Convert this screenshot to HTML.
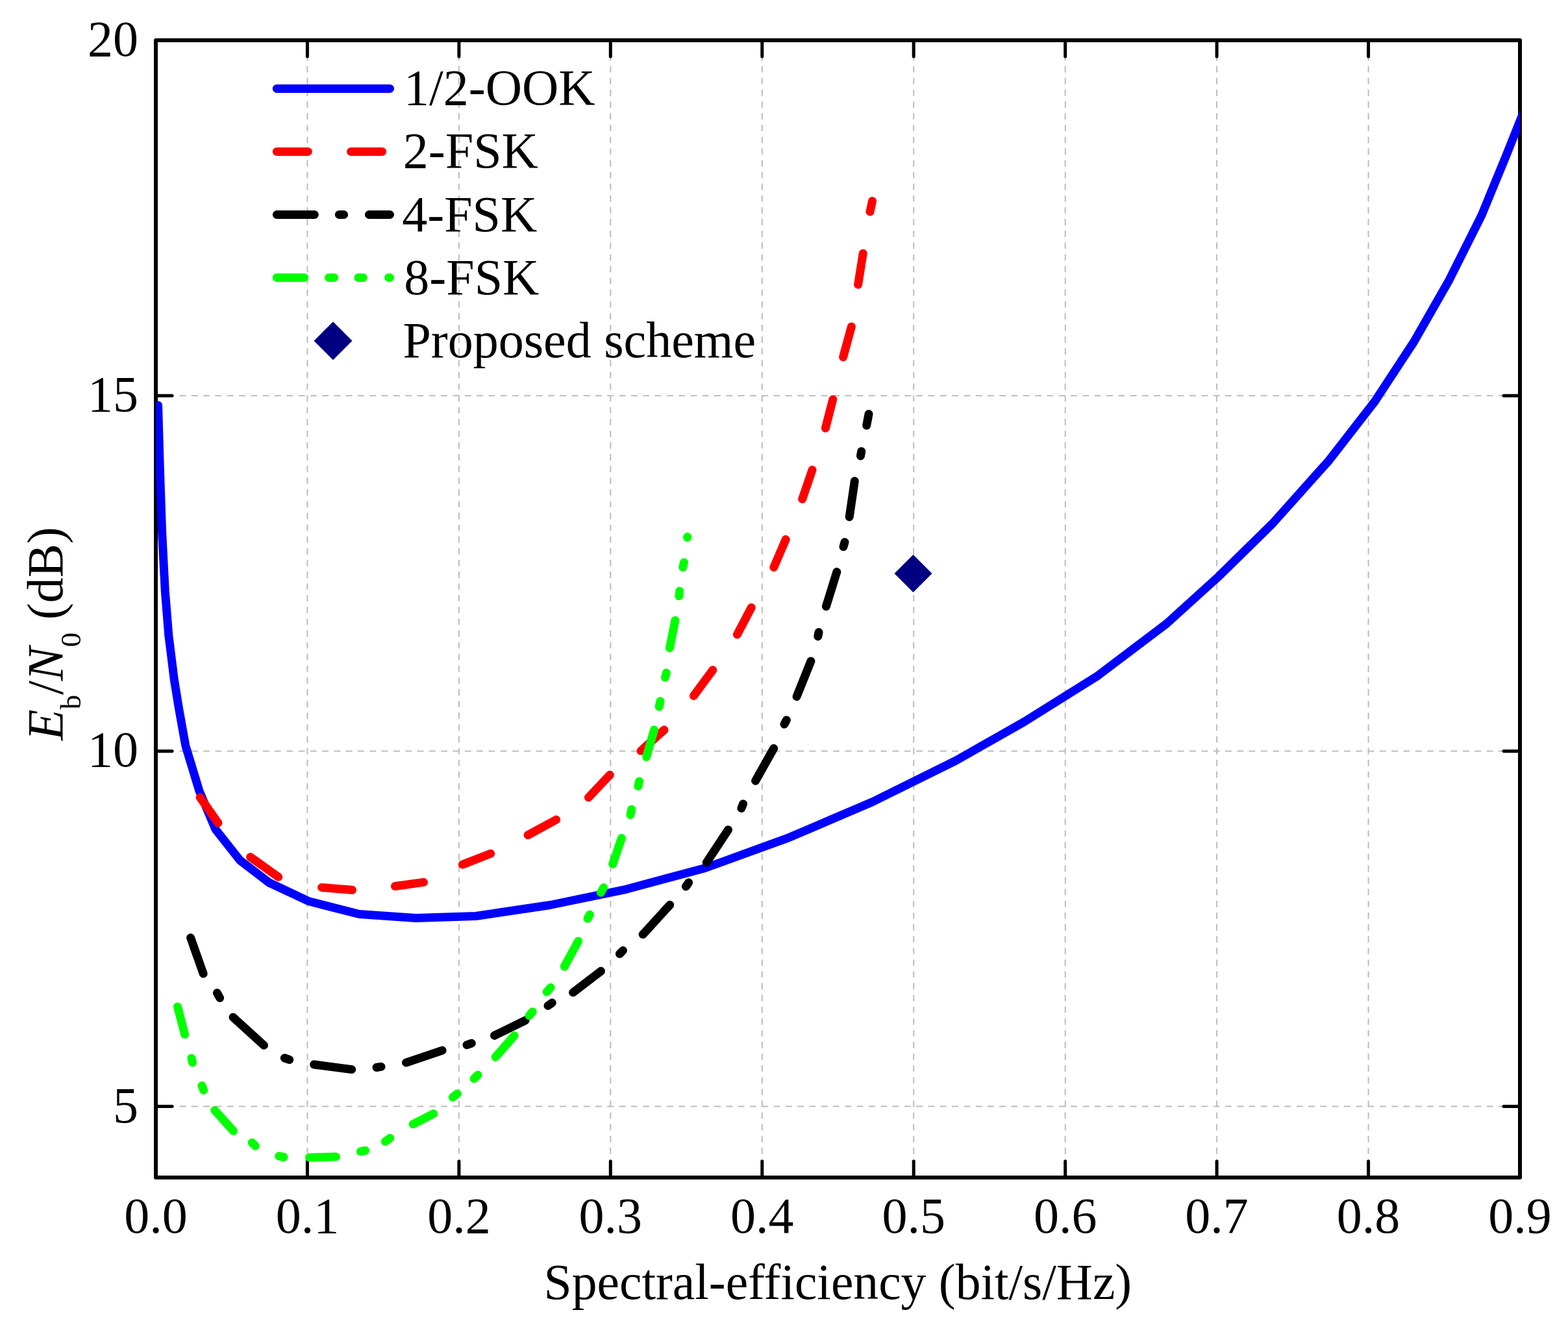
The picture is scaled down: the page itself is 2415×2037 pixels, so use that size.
<!DOCTYPE html><html><head><meta charset="utf-8"><title>Eb/N0 vs spectral efficiency</title><style>
html,body{margin:0;padding:0;background:#fff;}body{width:2415px;height:2037px;overflow:hidden;}svg{display:block;}
text{font-family:"Liberation Serif","Times New Roman",serif;fill:#000;}
</style></head><body>
<svg width="2415" height="2037" viewBox="0 0 2415 2037">
<rect width="2415" height="2037" fill="#fff"/>
<defs><clipPath id="pc"><rect x="240" y="62" width="2101" height="1751"/></clipPath></defs>
<path d="M473.4 1813V62 M706.9 1813V62 M940.3 1813V62 M1173.8 1813V62 M1407.2 1813V62 M1640.7 1813V62 M1874.1 1813V62 M2107.6 1813V62" stroke="#bcbcbc" stroke-width="2" stroke-dasharray="9.8 8.3" fill="none"/>
<path d="M240 1703.6H2341 M240 1156.4H2341 M240 609.2H2341" stroke="#bcbcbc" stroke-width="2" stroke-dasharray="9.8 8.5" fill="none"/>
<rect x="240" y="62" width="2101" height="1751" fill="none" stroke="#000" stroke-width="6" stroke-linejoin="round"/>
<path d="M473.4 1813v-25M473.4 62v25 M706.9 1813v-25M706.9 62v25 M940.3 1813v-25M940.3 62v25 M1173.8 1813v-25M1173.8 62v25 M1407.2 1813v-25M1407.2 62v25 M1640.7 1813v-25M1640.7 62v25 M1874.1 1813v-25M1874.1 62v25 M2107.6 1813v-25M2107.6 62v25 M240 1703.6h25M2341 1703.6h-25 M240 1156.4h25M2341 1156.4h-25 M240 609.2h25M2341 609.2h-25" stroke="#000" stroke-width="5" stroke-linecap="round" fill="none"/>
<g clip-path="url(#pc)" fill="none" stroke-width="13" stroke-linecap="round" stroke-linejoin="round">
<path d="M243.5 624 L246.3 722 L249.6 820 L254.3 910.7 L259.8 978.6 L268.3 1046.6 L275.7 1092 L285.9 1148.6 L307 1218 L332 1277 L369.5 1324.5 L414.5 1359 L476 1387.8 L553.5 1407.5 L640.5 1413.5 L733 1410.5 L847 1393.5 L964 1369.3 L1086.1 1336.5 L1215.2 1289.6 L1343 1235 L1472.2 1171.1 L1578 1111 L1689.1 1041.6 L1796.7 960.3 L1877 887.5 L1960 806 L2047 708.8 L2117.5 618 L2177.6 526.4 L2232 431.2 L2282 331.4 L2320 239 L2341.8 184.3 L2352 158" stroke="#0000ff"/>
<path d="M308.2 1227.7L335.9 1267 M385.6 1319.6L428.7 1350.2 M495.6 1366.4L542.5 1370.3 M608.5 1364.5L652.5 1358.4 M712.4 1331.1L755.7 1314.3 M813.1 1285.7L856.6 1262.1 M906.4 1227.9L939.3 1193.1 M987.1 1156.1L1022.9 1123.8 M1068.4 1071.4L1097.8 1031.7 M1135.4 977.1L1157.2 935.4 M1191.8 873.5L1210.2 830.6 M1235.7 768.4L1251 723.5 M1271.4 659.2L1282.8 615 M1298.6 549.8L1311.4 502.9 M1321.6 438.2L1329.2 390.2 M1340 326L1343.5 309.5" stroke="#ff0000"/>
<path d="M293.6 1443.8L313.1 1499.1 M334.4 1528.8L338.6 1536.5 M359 1566.3L406.5 1609.5 M438.3 1629L445.7 1631.6 M483.6 1639L541.7 1646.6 M580 1643.5L587 1642.4 M625.5 1636.1L681.1 1617.3 M719 1608.8L726.3 1606.3 M761.5 1594.4L809.1 1571.1 M844 1548.5L850.3 1544 M882.6 1528.1L925.4 1495.3 M954.4 1468.6L959.5 1463.5 M990.1 1438.8L1031.7 1393.3 M1056.4 1364.9L1060.6 1358.9 M1088.3 1327.9L1121.5 1277.7 M1141.9 1244.5L1144.5 1237.7 M1163.6 1202.2L1191.7 1152.3 M1208 1115.1L1211.3 1108.7 M1227.1 1072.4L1248.9 1018 M1259.8 979.9L1261 973.5 M1272.4 933.7L1288.8 880.6 M1299 841.8L1301 834.7 M1308.2 795.9L1316.3 740.8 M1325.5 702L1326.7 694.9 M1334.7 655.1L1338 637.5" stroke="#000"/>
<path d="M273.5 1550.1L284.6 1592.6 M294.9 1629.2L296.6 1636 M311 1671.5L313.6 1678.5 M330.8 1709.5L359.5 1741.3 M388.2 1759.3L393.3 1764.3 M429.8 1780.1L437 1781.5 M476.5 1782.2L517.4 1781.1 M555.4 1772.9L562.6 1771.5 M593.4 1757.6L600.7 1752.3 M636.2 1730.9L667.7 1714.8 M697.4 1689.6L704.2 1684 M730.1 1660.7L736 1655.1 M763.2 1627.6L792.1 1594.4 M815.1 1563.8L820.2 1557.8 M842.1 1527.3L848.1 1520.5 M869.3 1488.2L890.6 1449 M905 1414.2L908.4 1408.2 M925.4 1374.2L929.7 1366.6 M943.8 1330.4L957.4 1290.4 M971 1254.7L972.7 1246.2 M982.9 1210.5L984.6 1202.9 M995.6 1165.4L1007.6 1123.8 M1015.2 1088.1L1016.9 1079.6 M1024.5 1043L1026.3 1036 M1031.4 997.7L1039.9 955.2 M1045.9 917.8L1046.7 910.1 M1051.8 873.5L1053.5 865.9 M1058.6 827.6L1058.8 826.6" stroke="#00ff00"/>
</g>
<path d="M1406.5 853.9L1435.5 882.9L1406.5 911.9L1377.5 882.9Z" fill="#000080"/>
<g font-size="78"><text x="240" y="1898" text-anchor="middle">0.0</text><text x="473.4" y="1898" text-anchor="middle">0.1</text><text x="706.9" y="1898" text-anchor="middle">0.2</text><text x="940.3" y="1898" text-anchor="middle">0.3</text><text x="1173.8" y="1898" text-anchor="middle">0.4</text><text x="1407.2" y="1898" text-anchor="middle">0.5</text><text x="1640.7" y="1898" text-anchor="middle">0.6</text><text x="1874.1" y="1898" text-anchor="middle">0.7</text><text x="2107.6" y="1898" text-anchor="middle">0.8</text><text x="2341" y="1898" text-anchor="middle">0.9</text><text x="213" y="1727.6" text-anchor="end">5</text><text x="213" y="1180.4" text-anchor="end">10</text><text x="213" y="633.2" text-anchor="end">15</text><text x="213" y="86" text-anchor="end">20</text></g>
<text x="1290.4" y="1999.5" font-size="77.6" text-anchor="middle">Spectral-efficiency (bit/s/Hz)</text>
<text transform="translate(95.6 1140) rotate(-90)" font-size="78"><tspan font-style="italic">E</tspan><tspan font-size="45" dy="28">b</tspan><tspan dy="-28">/</tspan><tspan font-style="italic">N</tspan><tspan font-size="45" dy="28">0</tspan><tspan dy="-28"> (dB)</tspan></text>
<g fill="none" stroke-width="13" stroke-linecap="round">
<path d="M426.3 136.4H600.5" stroke="#0000ff"/>
<path d="M426.3 233.4H600.5" stroke="#ff0000" stroke-dasharray="48 66.3"/>
<path d="M426.3 330.5H600.5" stroke="#000" stroke-dasharray="58 38 7.3 38.8"/>
<path d="M426.3 427.4H600.5" stroke="#00ff00" stroke-dasharray="42.3 38 8 37.4 7.3 39.3"/>
</g>
<path d="M513 495.2L542.5 524.7L513 554.2L483.5 524.7Z" fill="#000080"/>
<g font-size="78"><text x="622" y="160.9">1/2-OOK</text><text x="620.8" y="257.5">2-FSK</text><text x="619.2" y="355.7">4-FSK</text><text x="622.3" y="452.8">8-FSK</text><text x="620.4" y="549.9">Proposed scheme</text></g>
</svg></body></html>
